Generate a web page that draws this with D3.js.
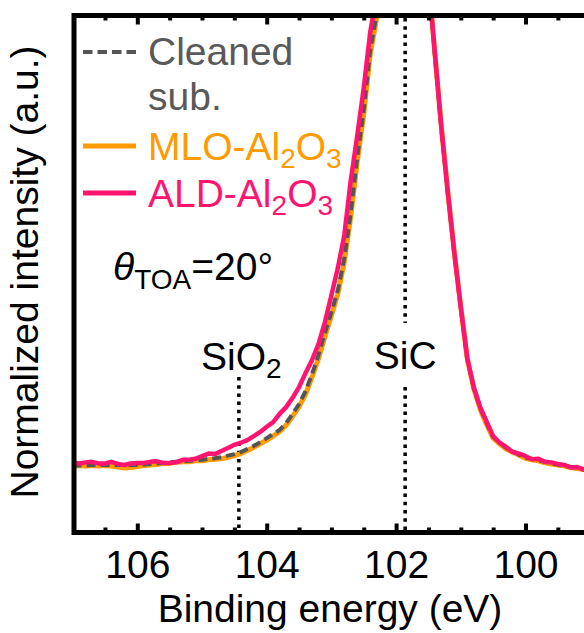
<!DOCTYPE html>
<html>
<head>
<meta charset="utf-8">
<script src="https://cdn.jsdelivr.net/npm/d3@7"></script>
<style>
  body { margin: 0; background: #fff; }
  text { font-family: "Liberation Sans", Arial, sans-serif; }
</style>
</head>
<body>
<div id="chart"></div>
<script>
// binding energy grid (eV)
const energy = [
  107, 106.9, 106.8, 106.7, 106.6, 106.5, 106.4, 106.3, 106.2, 106.1,
  106, 105.9, 105.8, 105.7, 105.6, 105.5, 105.4, 105.3, 105.2, 105.1,
  105, 104.9, 104.8, 104.7, 104.6, 104.5, 104.4, 104.3, 104.2, 104.1,
  104, 103.9, 103.8, 103.7, 103.6, 103.5, 103.4, 103.3, 103.2, 103.1,
  103, 102.9, 102.8, 102.7, 102.6, 102.5, 102.4, 102.3, 102.2, 102.1,
  102, 101.9, 101.8, 101.7, 101.6, 101.5, 101.4, 101.3, 101.2, 101.1,
  101, 100.9, 100.8, 100.7, 100.6, 100.5, 100.4, 100.3, 100.2, 100.1,
  100, 99.9, 99.8, 99.7, 99.6, 99.5, 99.4, 99.3, 99.2, 99.1,
  99
];

// normalized intensities
const cleaned = [
  0.127, 0.127, 0.127, 0.128, 0.128, 0.128, 0.128, 0.128, 0.128, 0.128,
  0.128, 0.129, 0.130, 0.131, 0.132, 0.133, 0.134, 0.135, 0.136, 0.137,
  0.138, 0.140, 0.141, 0.143, 0.146, 0.149, 0.153, 0.159, 0.165, 0.172,
  0.180, 0.188, 0.196, 0.209, 0.227, 0.246, 0.271, 0.304, 0.341, 0.384,
  0.424, 0.467, 0.529, 0.618, 0.725, 0.816, 0.932, 1.002, 1.072, 1.136,
  1.180, 1.200, 1.194, 1.169, 1.126, 1.068, 0.921, 0.779, 0.653, 0.537,
  0.432, 0.333, 0.277, 0.238, 0.209, 0.182, 0.172, 0.161, 0.155, 0.148,
  0.142, 0.140, 0.137, 0.134, 0.131, 0.129, 0.126, 0.124, 0.122, 0.119,
  0.117
];

const mlo = [
  0.126, 0.127, 0.126, 0.127, 0.126, 0.127, 0.126, 0.124, 0.122, 0.123,
  0.125, 0.127, 0.128, 0.129, 0.131, 0.131, 0.133, 0.134, 0.134, 0.136,
  0.136, 0.138, 0.139, 0.140, 0.143, 0.146, 0.150, 0.156, 0.162, 0.169,
  0.176, 0.184, 0.193, 0.205, 0.222, 0.241, 0.265, 0.298, 0.334, 0.377,
  0.417, 0.460, 0.522, 0.610, 0.716, 0.808, 0.924, 0.995, 1.066, 1.130,
  1.176, 1.198, 1.193, 1.170, 1.128, 1.071, 0.925, 0.783, 0.657, 0.540,
  0.434, 0.334, 0.276, 0.236, 0.206, 0.180, 0.169, 0.159, 0.153, 0.147,
  0.141, 0.138, 0.136, 0.132, 0.130, 0.128, 0.126, 0.123, 0.121, 0.119,
  0.116
];

const ald = [
  0.132, 0.131, 0.133, 0.134, 0.131, 0.131, 0.134, 0.130, 0.128, 0.131,
  0.132, 0.132, 0.134, 0.135, 0.132, 0.132, 0.133, 0.138, 0.138, 0.140,
  0.145, 0.150, 0.149, 0.155, 0.161, 0.167, 0.171, 0.176, 0.184, 0.192,
  0.202, 0.211, 0.227, 0.240, 0.258, 0.279, 0.306, 0.331, 0.362, 0.405,
  0.457, 0.510, 0.574, 0.680, 0.767, 0.859, 0.967, 1.039, 1.095, 1.150,
  1.190, 1.205, 1.196, 1.170, 1.127, 1.070, 0.925, 0.781, 0.655, 0.539,
  0.433, 0.335, 0.279, 0.240, 0.212, 0.184, 0.171, 0.163, 0.153, 0.150,
  0.145, 0.139, 0.140, 0.134, 0.133, 0.130, 0.128, 0.123, 0.124, 0.119,
  0.118
];

const majorTicks = [106, 104, 102, 100];
const minorTicks = [106.5, 105.5, 105, 104.5, 103.5, 103, 102.5, 101.5, 101, 100.5, 99.5];

// reference peak positions (eV)
const sio2Pos = 104.43;
const sicPos = 101.86;

const orange = "#FF9A00";
const pink = "#FF1470";
const grey = "#555555";

const W = 584, H = 633;
const pLeft = 74, pTop = 15.5, pBottom = 532.5, pRight = 584;
const fs = 39, fsSub = 28;

const svg = d3.select("#chart")
  .append("svg")
    .attr("width", W)
    .attr("height", H);

let x = d3.scaleLinear()
  .domain([106, 100])
  .range([137.3, 525.5]);

let y = d3.scaleLinear()
  .domain([0, 1])
  .range([531, 15]);

svg.append("clipPath").attr("id", "plot")
  .append("rect")
    .attr("x", pLeft).attr("y", pTop)
    .attr("width", pRight - pLeft).attr("height", pBottom - pTop);

// reference dotted lines
const refG = svg.append("g")
  .attr("stroke", "#000")
  .attr("stroke-width", 3.5)
  .attr("stroke-dasharray", "3.5,4.7");
refG.append("line")
  .attr("x1", x(sio2Pos)).attr("x2", x(sio2Pos))
  .attr("y1", 377).attr("y2", pBottom);
refG.append("line")
  .attr("x1", x(sicPos)).attr("x2", x(sicPos))
  .attr("y1", 18).attr("y2", 323);
refG.append("line")
  .attr("x1", x(sicPos)).attr("x2", x(sicPos))
  .attr("y1", 387).attr("y2", pBottom);

// spectra
const line = d3.line()
  .x((d, i) => x(energy[i]))
  .y(d => y(d));

const curves = svg.append("g").attr("clip-path", "url(#plot)").attr("fill", "none");

curves.append("path")
  .attr("d", line(mlo))
  .attr("stroke", orange)
  .attr("stroke-width", 5)
  .attr("stroke-linejoin", "round");

curves.append("path")
  .attr("d", line(cleaned))
  .attr("stroke", grey)
  .attr("stroke-width", 4)
  .attr("stroke-dasharray", "9,5");

curves.append("path")
  .attr("d", line(ald))
  .attr("stroke", pink)
  .attr("stroke-width", 4.5)
  .attr("stroke-linejoin", "round");

// axes: ticks point inward, top axis mirrors bottom without labels
const bottomAxis = svg.append("g")
  .attr("transform", "translate(0," + pBottom + ")")
  .call(d3.axisBottom(x).tickValues(majorTicks).tickSize(-9).tickSizeOuter(0).tickPadding(18).tickFormat(d3.format("d")));
svg.append("g")
  .attr("transform", "translate(0," + pBottom + ")")
  .call(d3.axisBottom(x).tickValues(minorTicks).tickSize(-5).tickFormat(""))
  .call(g => g.select(".domain").remove())
  .call(g => g.selectAll("text").remove());

svg.append("g")
  .attr("transform", "translate(0," + pTop + ")")
  .call(d3.axisTop(x).tickValues(majorTicks).tickSize(-9).tickFormat(""))
  .call(g => g.select(".domain").remove())
  .call(g => g.selectAll("text").remove());
svg.append("g")
  .attr("transform", "translate(0," + pTop + ")")
  .call(d3.axisTop(x).tickValues(minorTicks).tickSize(-5).tickFormat(""))
  .call(g => g.select(".domain").remove())
  .call(g => g.selectAll("text").remove());

svg.selectAll(".tick line").attr("stroke", "#000").attr("stroke-width", 4);
bottomAxis.select(".domain").remove();
bottomAxis.selectAll("text")
  .attr("font-size", fs)
  .attr("font-family", "Liberation Sans, Arial, sans-serif")
  .attr("fill", "#000");

// frame (left, top, bottom spines)
svg.append("path")
  .attr("d", `M${pRight},${pTop}H${pLeft}V${pBottom}H${pRight}`)
  .attr("fill", "none")
  .attr("stroke", "#000")
  .attr("stroke-width", 5);

// axis labels
svg.append("text")
  .attr("x", 330)
  .attr("y", 622)
  .attr("text-anchor", "middle")
  .attr("font-size", fs)
  .text("Binding energy (eV)");

svg.append("text")
  .attr("transform", "rotate(-90)")
  .attr("x", -272)
  .attr("y", 38)
  .attr("text-anchor", "middle")
  .attr("font-size", fs)
  .text("Normalized intensity (a.u.)");

// legend
const legend = svg.append("g");
legend.append("line")
  .attr("x1", 83).attr("x2", 138).attr("y1", 52).attr("y2", 52)
  .attr("stroke", grey).attr("stroke-width", 4).attr("stroke-dasharray", "9.5,5");
legend.append("text").attr("x", 148).attr("y", 65).attr("font-size", fs).attr("fill", "#595959").text("Cleaned");
legend.append("text").attr("x", 148).attr("y", 110).attr("font-size", fs).attr("fill", "#595959").text("sub.");

// text with subscripts: each part shifts relative to the previous one
function formula(g, xPos, yPos, color, parts) {
  let t = g.append("text").attr("x", xPos).attr("y", yPos).attr("font-size", fs).attr("fill", color);
  let shift = 0;
  parts.forEach(p => {
    const target = p.sub ? 8 : 0;
    t.append("tspan")
      .attr("font-size", p.sub ? fsSub : fs)
      .attr("dy", target - shift)
      .text(p.t);
    shift = target;
  });
  return t;
}

legend.append("line")
  .attr("x1", 83).attr("x2", 136).attr("y1", 146).attr("y2", 146)
  .attr("stroke", orange).attr("stroke-width", 5);
formula(legend, 148, 160, orange, [{t: "MLO-Al"}, {t: "2", sub: true}, {t: "O"}, {t: "3", sub: true}]);

legend.append("line")
  .attr("x1", 83).attr("x2", 136).attr("y1", 193).attr("y2", 193)
  .attr("stroke", pink).attr("stroke-width", 5);
formula(legend, 148, 207, pink, [{t: "ALD-Al"}, {t: "2", sub: true}, {t: "O"}, {t: "3", sub: true}]);

// take-off angle annotation
let theta = svg.append("text").attr("x", 113).attr("y", 280).attr("font-size", fs).attr("fill", "#000");
theta.append("tspan").attr("font-style", "italic").text("\u03B8");
theta.append("tspan").attr("font-size", fsSub).attr("dy", 9).text("TOA");
theta.append("tspan").attr("dy", -9).text("=20\u00B0");

// peak labels
formula(svg, 201, 370, "#000", [{t: "SiO"}, {t: "2", sub: true}]);
svg.append("text")
  .attr("x", x(sicPos))
  .attr("y", 369)
  .attr("text-anchor", "middle")
  .attr("font-size", fs)
  .text("SiC");
</script>
</body>
</html>
